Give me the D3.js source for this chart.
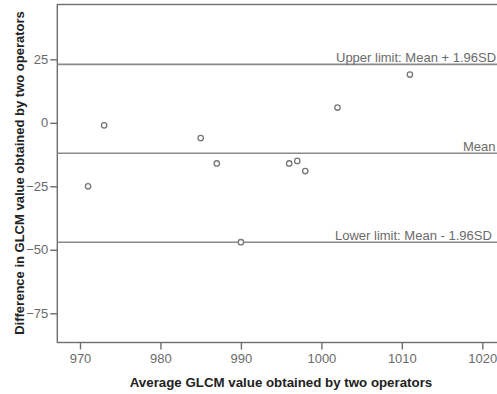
<!DOCTYPE html>
<html>
<head>
<meta charset="utf-8">
<script src="https://cdn.jsdelivr.net/npm/d3@7"></script>
<style>
  html, body { margin: 0; padding: 0; background: #fff; }
  svg { display: block; }
</style>
</head>
<body>
<svg id="chart" width="497" height="394"></svg>
<script>
// Bland–Altman agreement data: mean of both operators vs. their difference
const averageGLCM = [971, 973, 985, 987, 990, 996, 997, 998, 1002, 1011];
const differenceGLCM = [-25, -1, -6, -16, -47, -16, -15, -19, 6, 19];

// Reference lines: mean difference and 95% limits of agreement
const refValues = [23, -12, -47];
const refLabels = ["Upper limit: Mean + 1.96SD", "Mean", "Lower limit: Mean - 1.96SD"];

const xTicks = [970, 980, 990, 1000, 1010, 1020];
const yTicks = [25, 0, -25, -50, -75];

const xTitle = "Average GLCM value obtained by two operators";
const yTitle = "Difference in GLCM value obtained by two operators";

const svg = d3.select("#chart");
const W = 497, H = 394;
const plot = { left: 57.3, top: 4.5, bottom: 342.5, right: 520 };

const x = d3.scaleLinear().domain([970, 1020]).range([80, 482.3]);
const y = d3.scaleLinear().domain([25, -75]).range([59.3, 313.3]);

const frameColor = "#6e6e6e";
const tickText = "#6a6a6a";

svg.append("defs").append("clipPath").attr("id", "plotclip")
  .append("rect").attr("x", 0).attr("y", 0).attr("width", W).attr("height", H);

// Plot frame (its right edge runs past the visible area)
svg.append("rect")
  .attr("x", plot.left).attr("y", plot.top)
  .attr("width", plot.right - plot.left).attr("height", plot.bottom - plot.top)
  .attr("fill", "#fff").attr("stroke", frameColor).attr("stroke-width", 1.4);

// Axes
const fontFam = "'Liberation Sans', Arial, sans-serif";

const xAxis = d3.axisBottom(x).tickValues(xTicks).tickSize(7).tickPadding(4).tickFormat(d3.format("d"));
const gx = svg.append("g").attr("transform", `translate(0,${plot.bottom})`).call(xAxis);
gx.select(".domain").remove();
gx.selectAll("line").attr("stroke", frameColor).attr("stroke-width", 1.4);
gx.selectAll("text").attr("fill", tickText).attr("font-size", 13).attr("font-family", fontFam);

const yAxis = d3.axisLeft(y).tickValues(yTicks).tickSize(7).tickPadding(2).tickFormat(d3.format("d"));
const gy = svg.append("g").attr("transform", `translate(${plot.left},0)`).call(yAxis);
gy.select(".domain").remove();
gy.selectAll("line").attr("stroke", frameColor).attr("stroke-width", 1.4);
gy.selectAll("text").attr("fill", tickText).attr("font-size", 13).attr("font-family", fontFam);

// Reference lines with labels
const refs = svg.append("g").attr("clip-path", "url(#plotclip)");
const labelX = [336, 463, 335];
refValues.forEach((v, i) => {
  refs.append("line")
    .attr("x1", plot.left).attr("x2", plot.right)
    .attr("y1", y(v)).attr("y2", y(v))
    .attr("stroke", "#8a8a8a").attr("stroke-width", 1.6);
  refs.append("text")
    .attr("x", labelX[i]).attr("y", y(v) - 2.5)
    .attr("fill", "#6a6a6a").attr("font-size", 13).attr("font-family", fontFam)
    .text(refLabels[i]);
});

// Data points
svg.append("g").selectAll("circle")
  .data(averageGLCM.map((a, i) => [a, differenceGLCM[i]]))
  .join("circle")
  .attr("cx", d => x(d[0])).attr("cy", d => y(d[1]))
  .attr("r", 2.7)
  .attr("fill", "#fff").attr("stroke", "#777").attr("stroke-width", 1.3);

// Axis titles
svg.append("text")
  .attr("x", 281).attr("y", 386.5)
  .attr("text-anchor", "middle")
  .attr("font-size", 13.3).attr("font-weight", "bold").attr("font-family", fontFam)
  .attr("fill", "#222")
  .text(xTitle);

svg.append("text")
  .attr("transform", "translate(24,173) rotate(-90)")
  .attr("text-anchor", "middle")
  .attr("font-size", 13).attr("font-weight", "bold").attr("font-family", fontFam)
  .attr("fill", "#222")
  .text(yTitle);
</script>
</body>
</html>
